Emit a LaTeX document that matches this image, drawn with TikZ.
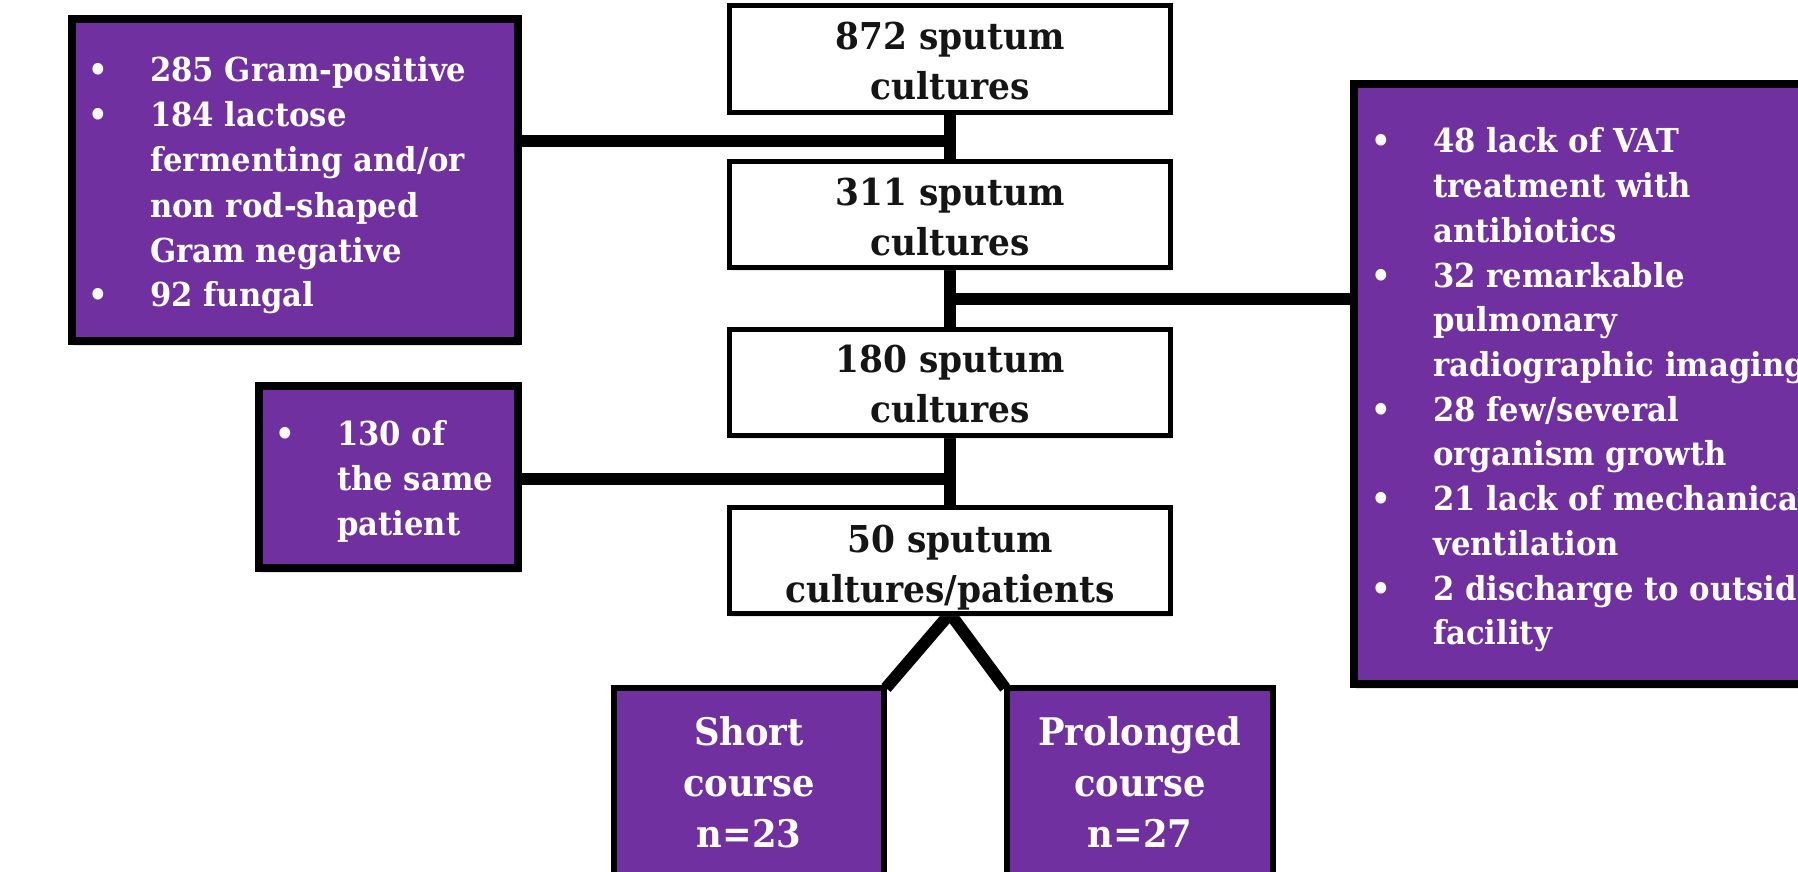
\documentclass[tikz,border=0pt]{standalone}
\usepackage{fontspec}
\setmainfont{DejaVu Serif}[FakeStretch=0.93]
\usetikzlibrary{shadows,calc}
\definecolor{vpurple}{HTML}{7030A0}
\definecolor{ink}{HTML}{151515}
\pgfdeclarelayer{bg}
\pgfsetlayers{bg,main}
\newcommand{\bitem}[1]{\par\noindent\hangindent=62pt\hangafter=1\makebox[62pt][l]{\textbullet}{\let\\\newline#1}}
\tikzset{
  whitebox/.style={draw=black, line width=5pt, fill=white, inner sep=0pt, outer sep=0pt,
    drop shadow={shadow xshift=1pt, shadow yshift=-3pt, opacity=0.18}},
  sidebox/.style={draw=black, line width=8pt, fill=vpurple, inner sep=0pt, outer sep=0pt,
    drop shadow={shadow xshift=2pt, shadow yshift=-5pt, opacity=0.22}},
  groupbox/.style={draw=black, line width=6pt, fill=vpurple, inner sep=0pt, outer sep=0pt},
  conn/.style={draw=black, line width=12pt},
  ctext/.style={inner sep=0pt, anchor=base, text=ink, font=\bfseries\fontsize{37}{50}\selectfont},
  btext/.style={inner sep=0pt, anchor=base west, text=white, font=\bfseries\fontsize{33}{45}\selectfont},
  gtext/.style={inner sep=0pt, anchor=base, text=white, font=\bfseries\fontsize{38}{51}\selectfont},
}
\begin{document}
\begin{tikzpicture}[x=1pt, y=-1pt]
\useasboundingbox (0,0) rectangle (1798,872);
\clip (0,0) rectangle (1798,872);
% boxes
\node[sidebox, minimum width=446pt, minimum height=322pt] (left1) at (295,180) {};
\node[sidebox, minimum width=259pt, minimum height=182pt] (same) at (388.5,477) {};
\node[sidebox, minimum width=492pt, minimum height=600pt] (right) at (1600,384) {};
\node[whitebox, minimum width=441pt, minimum height=107pt] (b872) at (950,59) {};
\node[whitebox, minimum width=441pt, minimum height=106pt] (b311) at (950,214.5) {};
\node[whitebox, minimum width=441pt, minimum height=106pt] (b180) at (950,382.5) {};
\node[whitebox, minimum width=441pt, minimum height=106pt] (b50) at (950,560.5) {};
\node[groupbox, minimum width=270pt, minimum height=229pt] (short) at (749,802.5) {};
\node[groupbox, minimum width=266pt, minimum height=229pt] (prol) at (1140,802.5) {};
% connectors
\begin{pgfonlayer}{bg}
\coordinate (jA) at (950,141);
\coordinate (jB) at (950,299);
\coordinate (jC) at (950,479);
\draw[conn] (b872.south) -- (b50.north);
\draw[conn] (left1.east |- jA) -- (jA);
\draw[conn] (jB) -- (jB -| right.west);
\draw[conn] (same.east |- jC) -- (jC);
\draw[conn] ($(short.north east)+(2,0)$) -- (b50.south) -- ($(prol.north west)+(-2,0)$);
\end{pgfonlayer}
% texts
\node[ctext] (t872) at (950,50) {\parbox[t]{420pt}{\centering 872 sputum\\cultures}};
\node[ctext] (t311) at (950,205) {\parbox[t]{420pt}{\centering 311 sputum\\cultures}};
\node[ctext] (t180) at (950,372) {\parbox[t]{420pt}{\centering 180 sputum\\cultures}};
\node[ctext] (t50) at (950,552) {\parbox[t]{420pt}{\centering 50 sputum\\cultures/patients}};
\node[btext] (tleft) at (88,82) {\parbox[t]{420pt}{\raggedright
  \bitem{285 Gram-positive}
  \bitem{184 lactose\\fermenting and/or\\non rod-shaped\\Gram negative}
  \bitem{92 fungal}}};
\node[btext] (tsame) at (275,445) {\parbox[t]{240pt}{\raggedright
  \bitem{130 of\\the same\\patient}}};
\node[btext] (tright) at (1371,153) {\parbox[t]{600pt}{\raggedright\fontsize{33}{44.7}\selectfont
  \bitem{48 lack of VAT\\treatment with\\antibiotics}
  \bitem{32 remarkable\\pulmonary\\radiographic imaging}
  \bitem{28 few/several\\organism growth}
  \bitem{21 lack of mechanical\\ventilation}
  \bitem{2 discharge to outside\\facility}}};
\node[gtext] (tshort) at (749,745) {\parbox[t]{260pt}{\centering Short\\course\\n=23}};
\node[gtext] (tprol) at (1140,745) {\parbox[t]{260pt}{\centering Prolonged\\course\\n=27}};
\end{tikzpicture}
\end{document}
